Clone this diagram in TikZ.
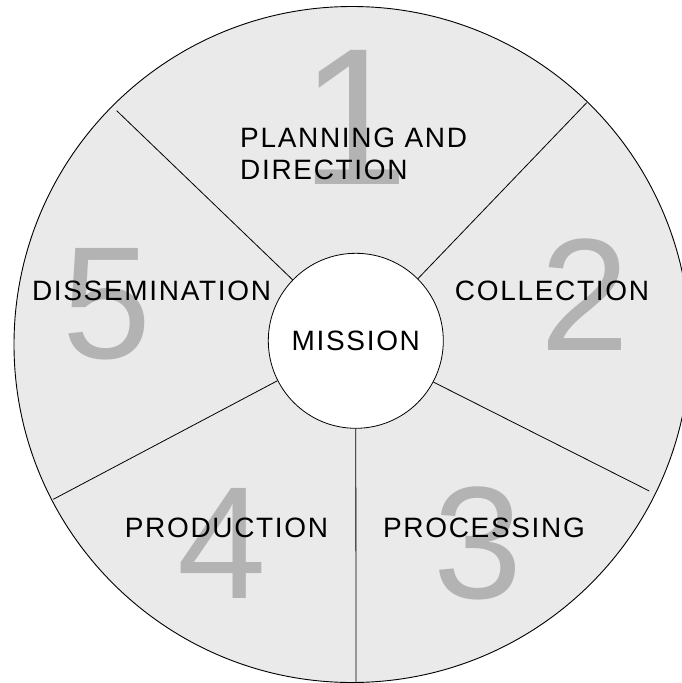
\documentclass[tikz,border=0pt]{standalone}
\usepackage{fontspec}
\setmainfont{Liberation Sans}
\newfontfamily\lblfont[LetterSpace=6]{Liberation Sans}
\definecolor{segfill}{HTML}{EAEAEA}
\definecolor{numgray}{HTML}{B3B3B3}
\begin{document}
\begin{tikzpicture}[x=1pt,y=-1pt,
  lbl/.style={font=\lblfont\fontsize{28}{32}\selectfont, inner sep=0pt, text=black},
  bignum/.style={font=\fontsize{160}{160}\selectfont, inner sep=0pt, text=numgray},
  spoke/.style={draw=black, line width=0.8pt}]
\useasboundingbox (0,0) rectangle (681,683);
\fill[white] (0,0) rectangle (681,683);
% outer disc
\draw[fill=segfill, line width=0.9pt] (352,344.5) circle[radius=338];
% big numbers
\node[bignum, font=\fontsize{195}{195}\selectfont] (n1) at (355,117) {1};
\node[bignum] (n2) at (585,295) {2};
\node[bignum] (n3) at (478,543) {3};
\node[bignum] (n4) at (222,543) {4};
\node[bignum] (n5) at (107,304) {5};
% labels
\node[lbl, align=left, anchor=west] (plan) at (240,154) {PLANNING AND\\DIRECTION};
\node[lbl] (coll) at (552,291) {COLLECTION};
\node[lbl] (diss) at (151.5,291) {DISSEMINATION};
\node[lbl] (prod) at (226.5,528) {PRODUCTION};
\node[lbl] (proc) at (484,528) {PROCESSING};
% center
\node[circle, draw=black, fill=white, line width=0.8pt, minimum size=175pt, inner sep=0pt, lbl] (mission) at (355.8,340.8) {MISSION};
% spoke ends
\coordinate (e1) at (586.7,102.7);
\coordinate (e2) at (116.7,110.7);
\coordinate (e3) at (53.3,499.3);
\coordinate (e4) at (356,683);
\coordinate (e5) at (649.3,491);
\draw[spoke] (mission.45.9) -- (e1);
\draw[spoke] (mission.136.1) -- (e2);
\draw[spoke] (mission.207.6) -- (e3);
\draw[spoke] (mission.270) -- (e4);
\draw[spoke] (mission.332.9) -- (e5);
\end{tikzpicture}
\end{document}
